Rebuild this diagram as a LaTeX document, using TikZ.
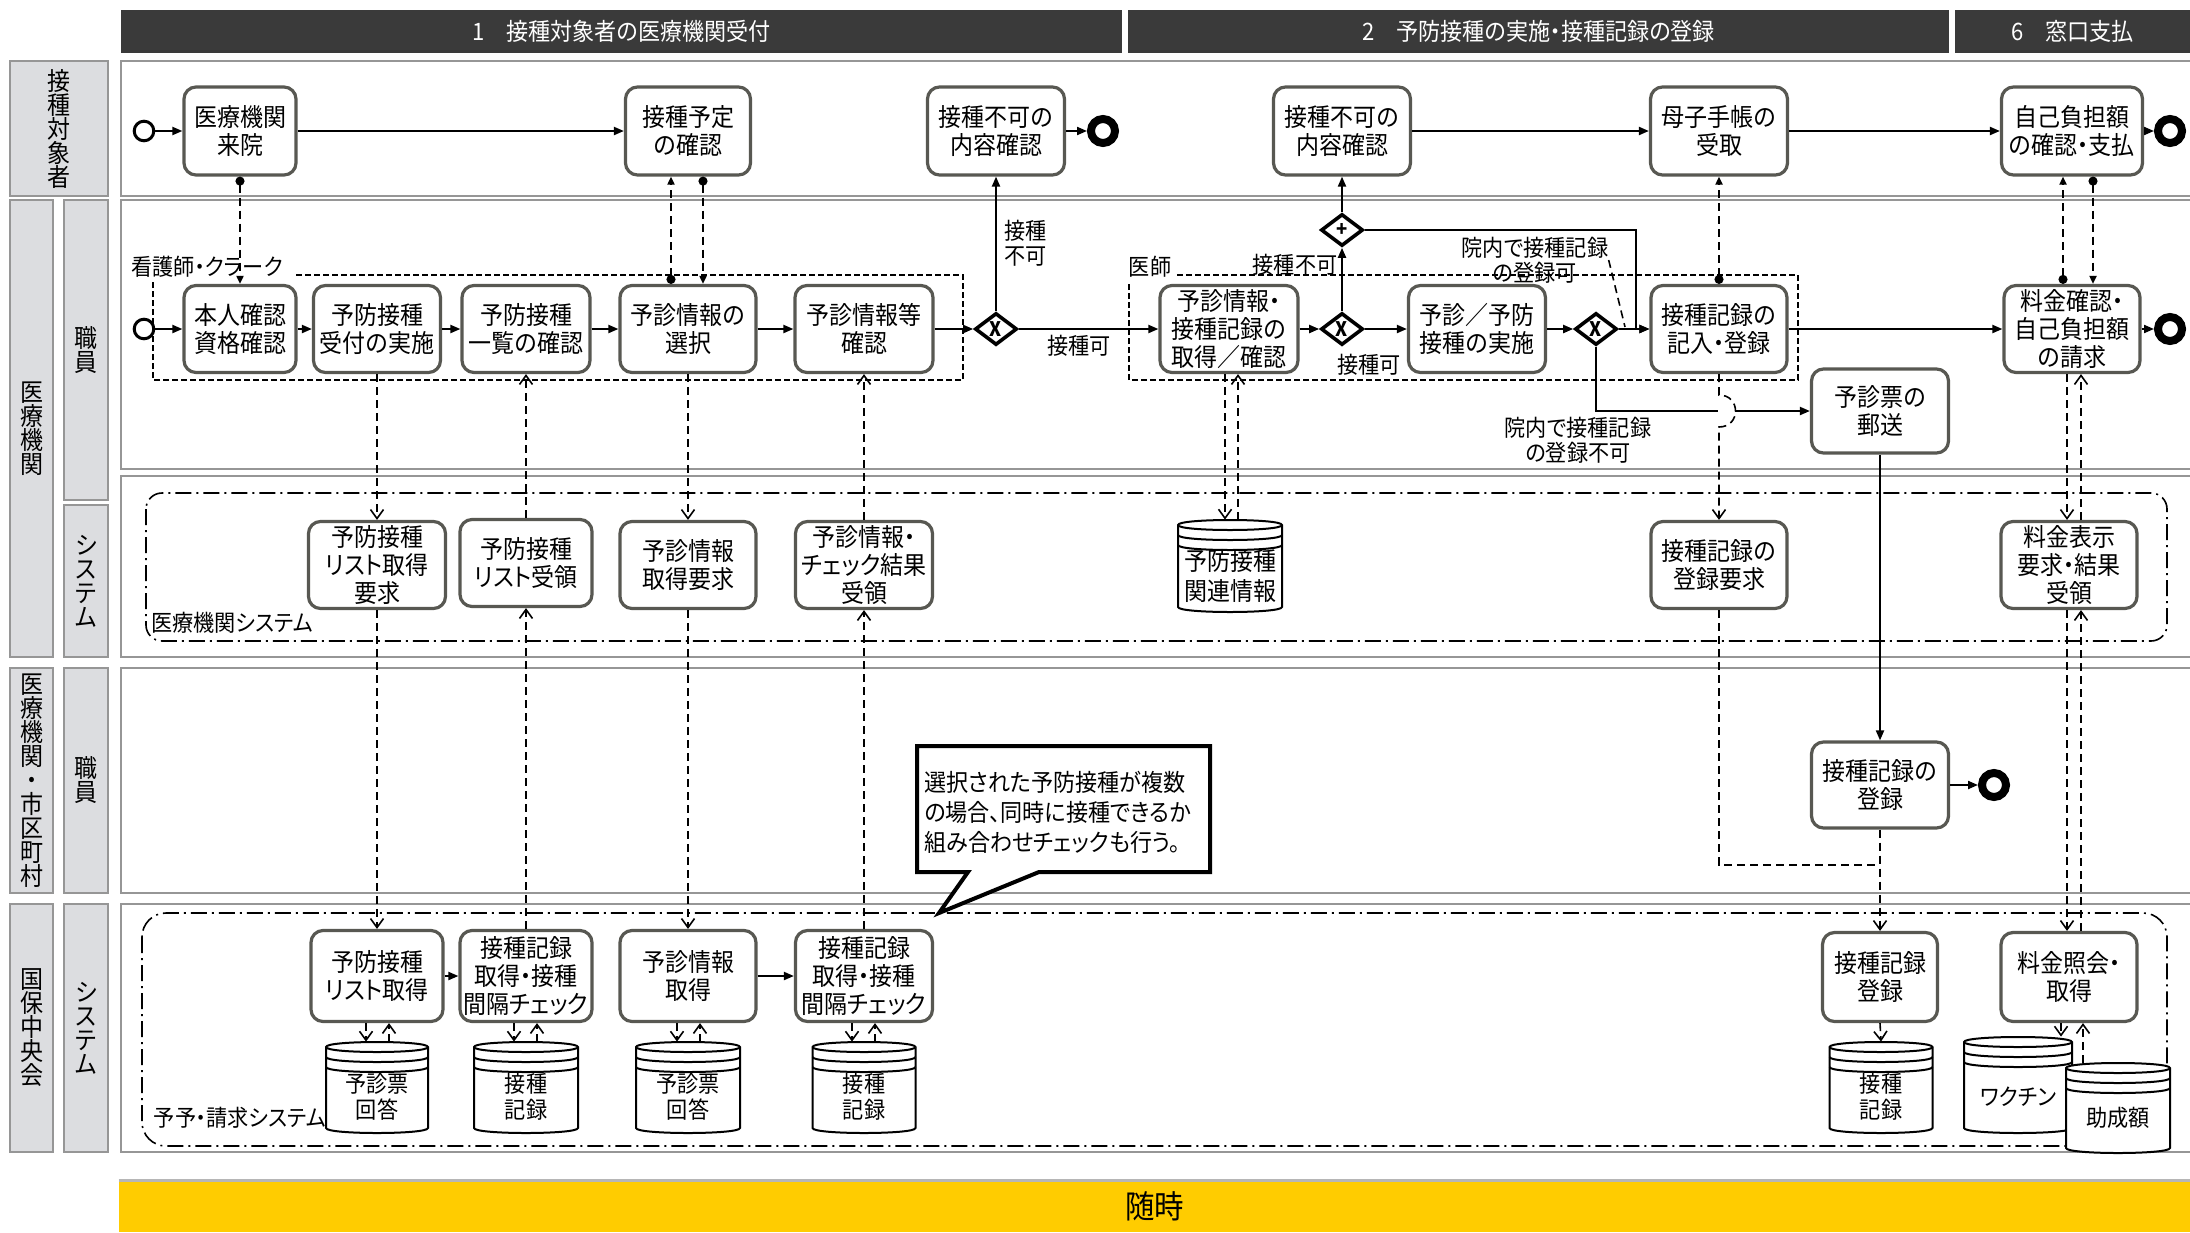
\documentclass[tikz,border=0pt]{standalone}
\usepackage{fontspec}
\setmainfont{Noto Sans CJK JP}[RawFeature={+palt}, FakeStretch=0.92]
\usetikzlibrary{arrows.meta,shapes.geometric}
\definecolor{taskbd}{RGB}{88,88,82}
\definecolor{lanebd}{RGB}{150,150,150}
\definecolor{lanefill}{RGB}{220,221,224}
\definecolor{hdrfill}{RGB}{58,58,58}
\definecolor{ybar}{RGB}{255,204,0}
% optional style, name, cx, ytop, ybot, half width, text y, text
\newcommand{\dbcyl}[8][]{%
  \draw[dbline] ({#3-#6},{#4+5}) -- ({#3-#6},{#5-5}) .. controls ({#3-#6},{#5+1.67}) and ({#3+#6},{#5+1.67}) .. ({#3+#6},{#5-5}) -- ({#3+#6},{#4+5}) .. controls ({#3+#6},{#4-1.67}) and ({#3-#6},{#4-1.67}) .. ({#3-#6},{#4+5}) -- cycle;
  \draw[dbline] ({#3-#6},{#4+5}) .. controls ({#3-#6},{#4+11.67}) and ({#3+#6},{#4+11.67}) .. ({#3+#6},{#4+5});
  \draw[dbline] ({#3-#6},{#4+15}) .. controls ({#3-#6},{#4+21.67}) and ({#3+#6},{#4+21.67}) .. ({#3+#6},{#4+15});
  \draw[dbline] ({#3-#6},{#4+25}) .. controls ({#3-#6},{#4+31.67}) and ({#3+#6},{#4+31.67}) .. ({#3+#6},{#4+25});
  \node[dbnode, minimum width={#6*1pt}, minimum height={(#5-#4)*0.5pt}] (#2) at (#3,{(#4+#5)/2}) {};
  \node[dbtext,#1] (#2t) at (#3,#7) {#8};
}
\begin{document}
\begin{tikzpicture}[x=0.5pt,y=-0.5pt,
  task/.style={draw=taskbd, line width=1.6pt, rounded corners=6pt, fill=white, align=center, inner sep=0.5pt, font=\fontsize{12.5}{14}\selectfont, minimum width=68.5pt, minimum height=43.5pt},
  lanebox/.style={draw=lanebd, line width=1.2pt, fill=white},
  lanelbl/.style={draw=lanebd, line width=1.2pt, fill=lanefill, align=center, inner sep=0pt, font=\fontsize{12.5}{12}\selectfont},
  hdr/.style={fill=hdrfill, text=white, inner sep=0pt, font=\fontsize{12}{13}\selectfont, minimum height=21.5pt},
  flow/.style={draw=black, line width=1pt, -{Triangle[length=5pt,width=4pt]}},
  flowline/.style={draw=black, line width=1pt},
  msg/.style={draw=black, line width=0.9pt, dash pattern=on 4pt off 2.5pt, {Circle[length=4.5pt]}-{Triangle[length=4pt,width=3.5pt]}},
  dat/.style={draw=black, line width=0.8pt, dash pattern=on 4pt off 2.5pt, -{Straight Barb[length=4.5pt,width=6.5pt]}},
  datline/.style={draw=black, line width=0.8pt, dash pattern=on 4pt off 2.5pt},
  assoc/.style={draw=black, line width=0.8pt, dash pattern=on 4pt off 2.5pt},
  grp/.style={draw=black, line width=0.8pt, dash pattern=on 3pt off 1.5pt},
  sysbox/.style={draw=black, line width=0.8pt, dash pattern=on 8pt off 2.5pt on 1pt off 2.5pt},
  gw/.style={diamond, draw=black, line width=1.8pt, fill=white, minimum width=21pt, minimum height=16pt, inner sep=0pt, font=\fontsize{10}{10}\selectfont\bfseries},
  startev/.style={circle, draw=black, line width=1.5pt, fill=white, minimum size=9.8pt, inner sep=0pt},
  endev/.style={circle, draw=black, line width=4pt, fill=white, minimum size=12pt, inner sep=0pt},
  lbl/.style={inner sep=0pt, align=center, font=\fontsize{11.5}{12.5}\selectfont},
  dbline/.style={draw=black, line width=1pt, fill=white},
  dbnode/.style={inner sep=0pt, draw=none},
  dbtext/.style={inner sep=0pt, align=center, font=\fontsize{11.5}{12.8}\selectfont},
  callout/.style={draw=black, line width=2pt, fill=white, line join=miter}
]
\useasboundingbox (0,0) rectangle (2190,1232);

% ---------- headers ----------
\node[hdr, minimum width=500.5pt] (h1) at (621.5,31.5) {1　接種対象者の医療機関受付};
\node[hdr, minimum width=410.5pt] (h2) at (1538.5,31.5) {2　予防接種の実施・接種記録の登録};
\node[hdr, minimum width=117.5pt] (h3) at (2072.5,31.5) {6　窓口支払};

% ---------- lanes ----------
\draw[lanebox] (121,61) rectangle (2196,196);
\draw[lanebox] (121,200) rectangle (2196,469);
\draw[lanebox] (121,476) rectangle (2196,657);
\draw[lanebox] (121,668) rectangle (2196,893);
\draw[lanebox] (121,904) rectangle (2196,1152);

\node[lanelbl, minimum width=49pt, minimum height=67.5pt] (l1) at (59,128.5) {接\\種\\対\\象\\者};
\node[lanelbl, minimum width=21.5pt, minimum height=228.5pt] (l2) at (31.5,428.5) {医\\療\\機\\関};
\node[lanelbl, minimum width=22pt, minimum height=150pt] (l2a) at (86,350) {職\\員};
\node[lanelbl, minimum width=22pt, minimum height=76pt] (l2b) at (86,581) {シ\\ス\\テ\\ム};
\node[lanelbl, minimum width=21.5pt, minimum height=112.5pt] (l3) at (31.5,780.5) {医\\療\\機\\関\\・\\市\\区\\町\\村};
\node[lanelbl, minimum width=22pt, minimum height=112.5pt] (l3a) at (86,780.5) {職\\員};
\node[lanelbl, minimum width=21.5pt, minimum height=124pt] (l4) at (31.5,1028) {国\\保\\中\\央\\会};
\node[lanelbl, minimum width=22pt, minimum height=124pt] (l4a) at (86,1028) {シ\\ス\\テ\\ム};

% ---------- yellow bar ----------
\node[fill=ybar, inner sep=0pt, minimum width=1035.5pt, minimum height=25.5pt, font=\fontsize{16}{17}\selectfont] (yb) at (1154.5,1206.5) {随時};
\draw[lanebd!70, line width=1.2pt] (yb.north west) -- (yb.north east);

% ---------- groups ----------
\draw[grp] (296,275) -- (963,275) -- (963,380) -- (153,380) -- (153,282);
\node[lbl] (lblNurse) at (207,267) {看護師・クラーク};
\draw[grp] (1177,275) -- (1798,275) -- (1798,380) -- (1129,380) -- (1129,281);
\node[lbl] (lblDoc) at (1150,267) {医師};

\draw[sysbox, rounded corners=8pt] (146,493) rectangle (2167,641);
\node[lbl] (lblSys1) at (232,623) {医療機関システム};
\draw[sysbox, rounded corners=12pt] (142,913) rectangle (2167,1146);
\node[lbl] (lblSys2) at (240,1118) {予予・請求システム};

% ---------- lane 1 ----------
\node[startev] (s1) at (144,131) {};
\node[task, minimum width=56pt, minimum height=44pt] (a1) at (240,131) {医療機関\\来院};
\node[task, minimum width=62.5pt, minimum height=44pt] (a2) at (688,131) {接種予定\\の確認};
\node[task, minimum height=44pt] (a3) at (996,131) {接種不可の\\内容確認};
\node[endev] (e1) at (1103,131) {};
\node[task, minimum height=44pt] (a4) at (1342,131) {接種不可の\\内容確認};
\node[task, minimum height=44pt] (a5) at (1719,131) {母子手帳の\\受取};
\node[task, minimum width=70.5pt, minimum height=44pt] (a6) at (2072,131) {自己負担額\\の確認・支払};
\node[endev] (e2) at (2170,131) {};

% ---------- lane 2 ----------
\node[startev] (s2) at (144,329) {};
\node[task, minimum width=56pt] (b1) at (240,329) {本人確認\\資格確認};
\node[task, minimum width=63.5pt] (b2) at (377,329) {予防接種\\受付の実施};
\node[task, minimum width=64pt] (b3) at (526,329) {予防接種\\一覧の確認};
\node[task, minimum width=68pt] (b4) at (688,329) {予診情報の\\選択};
\node[task, minimum width=69pt] (b5) at (864,329) {予診情報等\\確認};
\node[gw] (g1) at (996,329) {X};
\node[task, minimum width=69pt] (b6) at (1229,329) {予診情報・\\接種記録の\\取得／確認};
\node[gw] (g2) at (1342,329) {X};
\node[gw] (g3) at (1342,230) {+};
\node[task] (b7) at (1477,329) {予診／予防\\接種の実施};
\node[gw] (g4) at (1596,329) {X};
\node[task, minimum width=68pt] (b8) at (1719,329) {接種記録の\\記入・登録};
\node[task, minimum height=42pt] (b9) at (1880,411) {予診票の\\郵送};
\node[task, minimum width=68pt] (b10) at (2072,329) {料金確認・\\自己負担額\\の請求};
\node[endev] (e3) at (2170,329) {};

\node[lbl, anchor=west, align=left] (lblNG1) at (1004,243) {接種\\不可};
\node[lbl] (lblOK1) at (1079,346) {接種可};
\node[lbl] (lblNG2) at (1295,265) {接種不可};
\node[lbl] (lblOK2) at (1369,365) {接種可};
\node[lbl] (lblIn) at (1535,260) {院内で接種記録\\の登録可};
\node[lbl] (lblOut) at (1578,440) {院内で接種記録\\の登録不可};

% ---------- system (medical) ----------
\node[task] (c1) at (377,565) {予防接種\\リスト取得\\要求};
\node[task, minimum width=66pt] (c2) at (526,563) {予防接種\\リスト受領};
\node[task, minimum width=68pt] (c3) at (688,565) {予診情報\\取得要求};
\node[task] (c4) at (864,565) {予診情報・\\チェック結果\\受領};
\dbcyl[font=\fontsize{12.5}{15}\selectfont]{dbR}{1230}{520}{612}{52}{576}{予防接種\\関連情報}
\node[task, minimum width=68pt] (c5) at (1719,565) {接種記録の\\登録要求};
\node[task, minimum width=68pt] (c6) at (2069,565) {料金表示\\要求・結果\\受領};

% ---------- municipality staff ----------
\node[task, minimum height=43pt] (k1) at (1880,785) {接種記録の\\登録};
\node[endev] (e4) at (1994,785) {};

% callout
\draw[callout] (917,746) -- (1210,746) -- (1210,872) -- (1039,872) -- (939,913) -- (968,872) -- (917,872) -- cycle;
\node[inner sep=0pt, anchor=west, align=left, font=\fontsize{12}{15}\selectfont] (note) at (924,812) {選択された予防接種が複数\\の場合、同時に接種できるか\\組み合わせチェックも行う。};

% ---------- kokuho system ----------
\node[task, minimum width=66pt, minimum height=45.5pt] (f1) at (377,976) {予防接種\\リスト取得};
\node[task, minimum width=66pt, minimum height=45.5pt] (f2) at (526,976) {接種記録\\取得・接種\\間隔チェック};
\node[task, minimum width=68pt, minimum height=45.5pt] (f3) at (688,976) {予診情報\\取得};
\node[task, minimum width=68.5pt, minimum height=45.5pt] (f4) at (864,976) {接種記録\\取得・接種\\間隔チェック};
\node[task, minimum width=57.5pt, minimum height=44.5pt] (f5) at (1880,977) {接種記録\\登録};
\node[task, minimum width=68pt, minimum height=44.5pt] (f6) at (2069,977) {料金照会・\\取得};

\dbcyl{dbA}{377}{1042}{1133}{51}{1097}{予診票\\回答}
\dbcyl{dbB}{526}{1042}{1133}{52}{1097}{接種\\記録}
\dbcyl{dbC}{688}{1042}{1133}{52}{1097}{予診票\\回答}
\dbcyl{dbD}{864}{1042}{1133}{51.5}{1097}{接種\\記録}
\dbcyl{dbE}{1881}{1042}{1133}{51.5}{1097}{接種\\記録}
\dbcyl{dbV}{2018}{1037}{1133}{54}{1097}{ワクチン}
\dbcyl{dbS}{2118}{1063}{1153}{52}{1118}{助成額}

% ---------- helper coordinates ----------
\coordinate (xa1) at (671,0);
\coordinate (xa2) at (703,0);
\coordinate (xr1) at (1225,0);
\coordinate (xr2) at (1238,0);
\coordinate (xp1) at (2063,0);
\coordinate (xp2) at (2093,0);
\coordinate (xq1) at (2067,0);
\coordinate (xq2) at (2081,0);
\coordinate (xs1) at (2061,0);
\coordinate (xs2) at (2083,0);
\coordinate (xd1a) at (366,0);
\coordinate (xd1b) at (389,0);
\coordinate (xd2a) at (514,0);
\coordinate (xd2b) at (537,0);
\coordinate (xd3a) at (677,0);
\coordinate (xd3b) at (700,0);
\coordinate (xd4a) at (852,0);
\coordinate (xd4b) at (875,0);
\coordinate (xj) at (1636,0);
\coordinate (hopL) at (1718,411);
\coordinate (hopR) at (1735,411);
\coordinate (hopT) at (1719,395);
\coordinate (hopB) at (1719,427);
\coordinate (m1) at (1880,865);
\coordinate (assocEnd) at (1625,327);

% ---------- sequence flows ----------
\draw[flow] (s1) -- (a1);
\draw[flow] (a1) -- (a2);
\draw[flow] (a3) -- (e1);
\draw[flow] (a4) -- (a5);
\draw[flow] (a5) -- (a6);
\draw[flow] (a6) -- (e2);
\draw[flow] (s2) -- (b1);
\draw[flow] (b1) -- (b2);
\draw[flow] (b2) -- (b3);
\draw[flow] (b3) -- (b4);
\draw[flow] (b4) -- (b5);
\draw[flow] (b5) -- (g1);
\draw[flow] (g1) -- (b6);
\draw[flow] (g1) -- (a3);
\draw[flow] (b6) -- (g2);
\draw[flow] (g2) -- (b7);
\draw[flow] (g2) -- (g3);
\draw[flow] (g3) -- (a4);
\draw[flow] (g3.east) -| (xj |- b8.west) -- (b8.west);
\draw[flow] (b7) -- (g4);
\draw[flow] (g4) -- (b8);
\draw[flowline] (g4.south) |- (hopL);
\draw[flow] (hopR) -- (b9.west);
\draw[flow] (b8) -- (b10);
\draw[flow] (b10) -- (e3);
\draw[flow] (b9) -- (k1);
\draw[flow] (k1) -- (e4);
\draw[flow] (f1) -- (f2);
\draw[flow] (f3) -- (f4);

% ---------- message flows ----------
\draw[msg] (a1.south) -- (b1.north);
\draw[msg] (a2.south -| xa2) -- (b4.north -| xa2);
\draw[msg] (b4.north -| xa1) -- (a2.south -| xa1);
\draw[msg] (b8.north) -- (a5.south);
\draw[msg] (b10.north -| xp1) -- (a6.south -| xp1);
\draw[msg] (a6.south -| xp2) -- (b10.north -| xp2);

% ---------- system data flows ----------
\draw[dat] (b2.south) -- (c1.north);
\draw[dat] (c1.south) -- (f1.north);
\draw[dat] (c2.north) -- (b3.south);
\draw[dat] (f2.north) -- (c2.south);
\draw[dat] (b4.south) -- (c3.north);
\draw[dat] (c3.south) -- (f3.north);
\draw[dat] (c4.north) -- (b5.south);
\draw[dat] (f4.north) -- (c4.south);
\draw[dat] (b6.south -| xr1) -- (dbR.north -| xr1);
\draw[dat] (dbR.north -| xr2) -- (b6.south -| xr2);
\draw[dat] (b8.south) -- (hopT) .. controls (1741,395) and (1741,427) .. (hopB) -- (c5.north);
\draw[datline] (c5.south) |- (m1);
\draw[dat] (k1.south) -- (f5.north);
\draw[dat] (b10.south -| xq1) -- (c6.north -| xq1);
\draw[dat] (c6.north -| xq2) -- (b10.south -| xq2);
\draw[dat] (c6.south -| xq1) -- (f6.north -| xq1);
\draw[dat] (f6.north -| xq2) -- (c6.south -| xq2);
\draw[dat] (f6.south -| xs1) -- (dbV.north -| xs1);
\draw[dat] (dbS.north -| xs2) -- (f6.south -| xs2);
\draw[dat] (f1.south -| xd1a) -- (dbA.north -| xd1a);
\draw[dat] (dbA.north -| xd1b) -- (f1.south -| xd1b);
\draw[dat] (f2.south -| xd2a) -- (dbB.north -| xd2a);
\draw[dat] (dbB.north -| xd2b) -- (f2.south -| xd2b);
\draw[dat] (f3.south -| xd3a) -- (dbC.north -| xd3a);
\draw[dat] (dbC.north -| xd3b) -- (f3.south -| xd3b);
\draw[dat] (f4.south -| xd4a) -- (dbD.north -| xd4a);
\draw[dat] (dbD.north -| xd4b) -- (f4.south -| xd4b);
\draw[dat] (f5.south) -- (dbE.north);

% association
\draw[assoc] (lblIn.east) -- (assocEnd);
\end{tikzpicture}
\end{document}
